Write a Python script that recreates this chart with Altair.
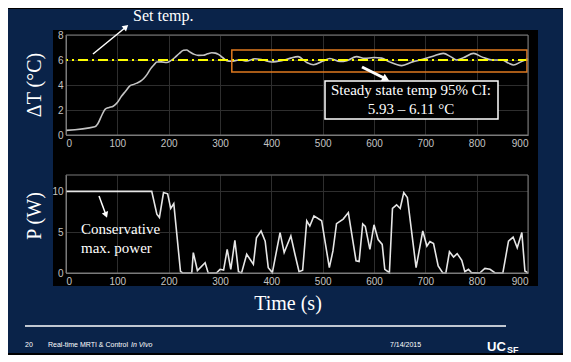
import altair as alt
import pandas as pd

# ---------------- data ----------------
time_ticks = [0, 100, 200, 300, 400, 500, 600, 700, 800, 900]
temp_ticks = [0, 2, 4, 6, 8]
power_ticks = [0, 5, 10]

temp_t = [0, 56, 62, 70, 76, 84, 92, 100, 108, 116, 125, 132, 138, 145, 151, 158, 164, 171, 177, 186,
          196, 204, 212, 220, 229, 235, 241, 250, 258, 267, 276, 284, 291, 297, 305, 313, 322, 330, 339, 352,
          368, 384, 401, 420, 436, 452, 469, 482, 501, 514, 534, 547, 566, 582, 600, 615, 630, 654, 675, 695,
          715, 735, 750, 761, 775, 794, 810, 830, 850, 862, 872, 886, 900]
temp_v = [0.37, 0.66, 0.9, 1.6, 2.05, 2.2, 2.3, 2.6, 3.1, 3.5, 3.95, 4.05, 4.15, 4.3, 4.5, 4.85, 5.25, 5.6, 5.84, 5.85,
          5.8, 5.95, 6.2, 6.5, 6.78, 6.8, 6.65, 6.45, 6.37, 6.38, 6.5, 6.58, 6.55, 6.45, 6.2, 5.95, 5.9, 5.95, 6.02, 5.92,
          6.1, 6.0, 5.84, 5.95, 6.13, 6.27, 5.8, 5.62, 5.92, 6.12, 5.88, 5.95, 6.27, 6.13, 6.2, 6.15, 5.85, 5.55, 5.85, 6.05,
          6.3, 6.53, 6.25, 6.0, 6.2, 6.53, 6.25, 6.0, 6.0, 5.75, 5.6, 5.85, 6.1]

power_t = [0, 167, 177, 182, 190, 198, 204, 210, 223, 227, 245, 248, 256, 271, 277, 293, 300, 307, 314, 321,
           329, 336, 342, 352, 365, 371, 380, 388, 394, 402, 417, 425, 438, 446, 454, 461, 469, 475, 483, 498,
           513, 520, 527, 540, 550, 565, 571, 578, 583, 592, 600, 608, 616, 621, 630, 636, 644, 651, 658, 665,
           682, 695, 703, 709, 716, 725, 734, 740, 747, 755, 762, 771, 777, 784, 790, 806, 816, 826, 836, 851,
           862, 871, 879, 888, 894, 900]
power_v = [10, 10, 7.2, 6.8, 9.85, 9.7, 7.9, 8.5, 0.2, 0, 0, 2.5, 0.3, 1.25, 0, 0, 0.45, 0.35, 2.9, 0.45,
           4.0, 0.16, 0, 2.3, 1.07, 4.3, 5.15, 3.9, 0.65, 0.05, 4.95, 2.5, 4.55, 2.3, 0.16, 0.33, 6.4, 5.75, 7.0, 6.4,
           0.65, 2.7, 6.05, 6.6, 7.4, 1.5, 1.4, 6.0, 5.7, 2.9, 5.9, 4.1, 3.5, 0.45, 0.04, 7.9, 8.35, 7.9, 9.85, 9.25,
           0.65, 5.15, 3.3, 3.85, 3.6, 0.86, 0, 0, 2.6, 1.96, 2.37, 1.55, 0.16, 0.45, 0.04, 0, 0.57, 0.45, 0, 0,
           3.9, 4.4, 3.1, 4.95, 0.25, 0]

set_temp = 6
ci_box_t = [323, 898]
ci_box_temp = [5.05, 6.8]

# ---------------- style ----------------
NAVY = "#0a2349"
W, H1, H2 = 462, 100, 98
SERIF = "Liberation Serif"
SANS = "Liberation Sans"

temp_df = pd.DataFrame({"t": temp_t, "v": temp_v})
power_df = pd.DataFrame({"t": power_t, "v": power_v})
box_df = pd.DataFrame({"t0": [ci_box_t[0]], "t1": [ci_box_t[1]],
                       "v0": [ci_box_temp[0]], "v1": [ci_box_temp[1]]})
one = pd.DataFrame({"k": [0]})

xscale = alt.Scale(domain=[0, 900], nice=False)
xaxis = alt.Axis(values=time_ticks, title=None, grid=True, labelOverlap=False)
temp_scale = alt.Scale(domain=[0, 8], nice=False)
temp_axis = alt.Axis(values=temp_ticks, title=None, grid=True, labelOverlap=False)


def X(f):
    return alt.X(f, type="quantitative", scale=xscale, axis=xaxis)


def Y(f, dom, ticks):
    return alt.Y(f, type="quantitative", scale=alt.Scale(domain=dom, nice=False),
                 axis=alt.Axis(values=ticks, title=None, grid=True, labelOverlap=False))


def rect(x, x2, y, y2, **kw):
    return alt.Chart(one).mark_rect(**kw).encode(
        x=alt.value(x), x2=alt.value(x2), y=alt.value(y), y2=alt.value(y2))


def txt(s, x, y, size, font=SERIF, align="left", baseline="alphabetic", **kw):
    return alt.Chart(one).mark_text(text=s, fontSize=size, font=font, align=align,
                                    baseline=baseline, color="white", **kw).encode(
        x=alt.value(x), y=alt.value(y))


def arrow(x1, y1, x2, y2, angle, width=1.5, size=45):
    line = alt.Chart(one).mark_rule(color="white", strokeWidth=width).encode(
        x=alt.value(x1), y=alt.value(y1), x2=alt.value(x2), y2=alt.value(y2))
    head = alt.Chart(one).mark_point(shape="triangle-up", filled=True, color="white",
                                     opacity=1, size=size, angle=angle).encode(
        x=alt.value(x2), y=alt.value(y2))
    return line + head


# navy slide strips around the black figure area
strips = (rect(-58, 497, -26, -5, color=NAVY) + rect(-58, -13, -26, 318, color=NAVY)
          + rect(472, 497, -26, 318, color=NAVY) + rect(-58, 497, 251, 318, color=NAVY))

temp_line = alt.Chart(temp_df).mark_line(color="#c4c4c4", strokeWidth=1.6, interpolate="monotone").encode(
    x=X("t"), y=alt.Y("v", type="quantitative", scale=temp_scale, axis=temp_axis))
set_rule = alt.Chart(one).mark_rule(color="#ffff00", strokeWidth=2, strokeDash=[10, 4, 2, 4]).encode(
    y=alt.Y(datum=set_temp, type="quantitative", scale=temp_scale, axis=temp_axis))
box = alt.Chart(box_df).mark_rect(fillOpacity=0, stroke="#e07a1f", strokeWidth=1.5).encode(
    x=X("t0"), x2="t1", y=alt.Y("v0", type="quantitative", scale=temp_scale, axis=temp_axis), y2="v1")
frame1 = rect(0, W, 0, H1, fillOpacity=0, stroke="#7a7a7a", strokeWidth=1)

top = alt.layer(
    strips,
    temp_line,
    set_rule,
    box,
    frame1,
    txt("ΔT (°C)", -31, 50, 20, align="center", baseline="middle", angle=270),
    txt("Set temp.", 67, -14, 16),
    arrow(27, 19, 60, -8, 49),
    arrow(296, 32, 320, 44, 117, width=3, size=70),
    rect(259, 432, 46, 84, fill="black", stroke="white", strokeWidth=1.5),
    txt("Steady state temp 95% CI:", 345, 60, 15, align="center"),
    txt("5.93 – 6.11 °C", 345, 79, 15, align="center"),
).properties(width=W, height=H1)

power_line = alt.Chart(power_df).mark_line(color="#e6e6e6", strokeWidth=1.6).encode(
    x=X("t"), y=Y("v", [0, 12], power_ticks))
frame2 = rect(0, W, 0, H2, fillOpacity=0, stroke="#7a7a7a", strokeWidth=1)

bottom = alt.layer(
    power_line,
    frame2,
    txt("P (W)", -31, 41, 20, align="center", baseline="middle", angle=270),
    txt("Conservative", 15, 59, 15),
    txt("max. power", 15, 78, 15),
    arrow(33, 21, 40, 40, 159),
    txt("Time (s)", 222, 135, 20, align="center"),
    alt.Chart(one).mark_rule(color="white", strokeWidth=1.5).encode(
        x=alt.value(-41), x2=alt.value(440), y=alt.value(151)),
    txt("20", -41, 170, 7, font=SANS, baseline="middle"),
    txt("Real-time MRTI & Control", -18, 170, 7, font=SANS, baseline="middle"),
    txt("In Vivo", 65, 170, 7, font=SANS, baseline="middle", fontStyle="italic"),
    txt("7/14/2015", 324, 170, 7, font=SANS, baseline="middle"),
    txt("UC", 421, 176, 13, font=SANS, fontWeight="bold"),
    txt("SF", 441, 178, 9, font=SANS, fontWeight="bold"),
).properties(width=W, height=H2)

chart = alt.vconcat(top, bottom, spacing=40, bounds="flush", padding=0,
                    background="#000000").configure_view(strokeWidth=0).configure_axis(
    labelColor="#c4c4c4", labelFont=SANS, labelFontSize=10, gridColor="#2e2e2e", gridWidth=1,
    domainColor="#7a7a7a", ticks=False, labelPadding=3)

chart.save("out.html", embed_options={"renderer": "svg", "actions": False})
